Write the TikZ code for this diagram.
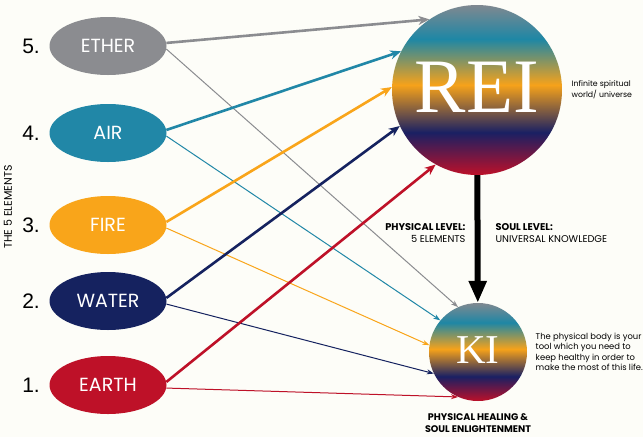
\documentclass[tikz,border=0pt]{standalone}
\usepackage{fontspec}
\setmainfont{Poppins}
\newfontfamily\numfont{Liberation Sans}
\newfontfamily\reifont{Liberation Serif}
\usetikzlibrary{shapes.geometric, arrows.meta, positioning}
\definecolor{etherc}{HTML}{8B8C90}
\definecolor{airc}{HTML}{2187A7}
\definecolor{firec}{HTML}{F9A51A}
\definecolor{waterc}{HTML}{15225F}
\definecolor{earthc}{HTML}{BE1128}
\definecolor{pagebg}{HTML}{FDFDF8}
\definecolor{bandgray}{HTML}{7F8890}
\definecolor{bandteal}{HTML}{1E87A5}
\definecolor{bandorange}{HTML}{F6A21A}
\definecolor{bandnavy}{HTML}{1A2063}
\definecolor{bandred}{HTML}{BD1029}
\pgfdeclareverticalshading{reiki}{100bp}{color(0bp)=(bandred); color(25bp)=(bandred); color(37.5bp)=(bandnavy); color(51.5bp)=(bandorange); color(65bp)=(bandteal); color(75bp)=(bandgray); color(100bp)=(bandgray)}

\begin{document}
\begin{tikzpicture}[x=1pt, y=-1pt,
    elem/.style={ellipse, minimum width=117pt, minimum height=58pt, inner sep=0pt, text=white, font=\fontsize{19}{19}\selectfont},
    num/.style={font=\numfont\fontsize{21}{21}\selectfont},
    orb/.style={circle, shading=reiki, inner sep=0pt, text=white},
    bigarr/.style={line width=2.6pt, -{Stealth[length=11pt, width=9pt]}},
    smallarr/.style={line width=1pt, -{Stealth[length=7pt, width=5pt]}}]
            \useasboundingbox (0,0) rectangle (643,437);
            \fill[pagebg] (0,0) rectangle (643,437);

            % The five elements
            \foreach \n/\el/\lab/\col/\y in {5/ether/ETHER/etherc/46, 4/air/AIR/airc/133, 3/fire/FIRE/firec/225, 2/water/WATER/waterc/301, 1/earth/EARTH/earthc/385} {
                \node[elem, fill=\col] (\el) at (108,\y) {\lab};
                \node[num, left=6pt of \el] (n\el) {\n.};
            }
            \node[rotate=90, font=\fontsize{11}{11}\selectfont] (title) at (8,207) {THE 5 ELEMENTS};

            % Rei and Ki
            \node[orb, minimum size=170pt, font=\reifont\fontsize{77}{77}\selectfont] (rei) at (477,90) {\raisebox{5pt}{REI}};
            \node[orb, minimum size=98pt, font=\reifont\fontsize{41}{41}\selectfont] (ki) at (478,352) {\raisebox{3.5pt}{KI}};
            \node[right=6pt of rei, align=left, font=\fontsize{7.8}{11}\selectfont] (inf) {Infinite spiritual\\world/ universe};
            \node[right=5pt of ki, align=left, font=\fontsize{8.4}{10.5}\selectfont] (body) {The physical body is your\\tool which you need to\\keep healthy in order to\\make the most of this life.};
            \node[below=9pt of ki, align=center, font=\bfseries\fontsize{9.6}{12}\selectfont] (heal) {PHYSICAL HEALING \&\\SOUL ENLIGHTENMENT};
            \node[anchor=east, align=right, font=\fontsize{9.8}{12}\selectfont] (phys) at (469,233) {\textbf{PHYSICAL LEVEL:}\\5 ELEMENTS};
            \node[anchor=west, align=left, font=\fontsize{9.8}{12}\selectfont] (soul) at (492,233) {\textbf{SOUL LEVEL:}\\UNIVERSAL KNOWLEDGE};

            % Arrows
            \foreach \el/\col/\ka in {ether/etherc/114, air/airc/140, fire/firec/172, water/waterc/206, earth/earthc/246}
                \draw[smallarr, \col] (\el.-3) -- (ki.\ka);
            \foreach \el/\col/\ra in {ether/etherc/124, air/airc/153, fire/firec/178, water/waterc/205, earth/earthc/241}
                \draw[bigarr, \col] (\el.3) -- (rei.\ra);
            \draw[line width=6pt, -{Triangle[length=22pt, width=17pt]}] (rei) -- (ki);
        \end{tikzpicture}
\end{document}
